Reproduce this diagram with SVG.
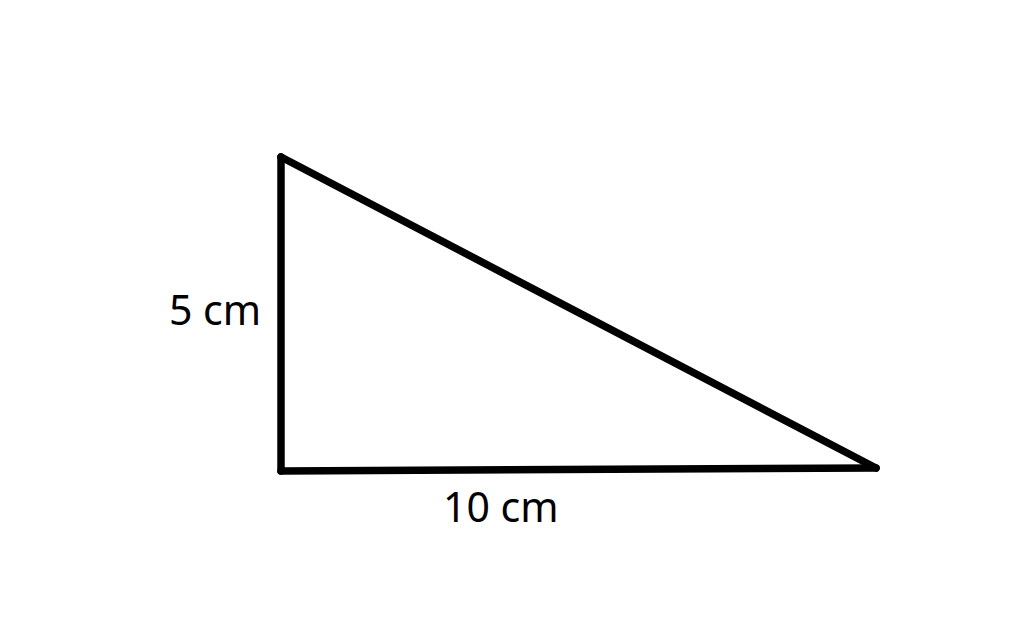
<svg xmlns="http://www.w3.org/2000/svg" width="1024" height="626" viewBox="0 0 1024 626">
<style>
.edge{fill:none;stroke:#000;stroke-width:7.5;stroke-linecap:round;stroke-linejoin:round}
.lbl{font-family:"Noto Sans","Open Sans",sans-serif;font-size:41px;fill:#000}
</style>
<rect width="1024" height="626" fill="#fff"/>
<g id="connectors">
<path class="edge" d="M281 157 L281 471"/>
<path class="edge" d="M281 471 L876 468"/>
<path class="edge" d="M281 157 L876 468"/>
</g>
<g id="label-5cm"><text class="lbl" x="169" y="325">5 cm</text></g>
<g id="label-10cm"><text class="lbl" x="443" y="522">10 cm</text></g>
</svg>
